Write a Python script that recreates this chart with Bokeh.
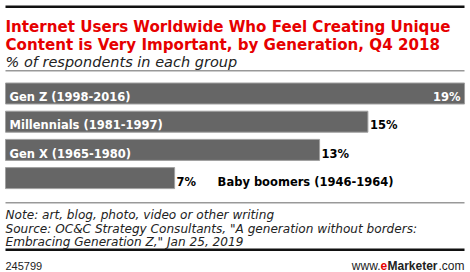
from bokeh.plotting import figure
from bokeh.models import Range1d, Label, BoxAnnotation, ColumnDataSource
from bokeh.core.properties import value
from bokeh.embed import file_html
from bokeh.resources import INLINE

# ---- data ----
categories = ["Gen Z (1998-2016)", "Millennials (1981-1997)", "Gen X (1965-1980)", "Baby boomers (1946-1964)"]
values = [19, 15, 13, 7]
value_labels = ["19%", "15%", "13%", "7%"]

title_lines = ["Internet Users Worldwide Who Feel Creating Unique",
               "Content is Very Important, by Generation, Q4 2018"]
subtitle = "% of respondents in each group"
note_lines = ["Note: art, blog, photo, video or other writing",
              "Source: OC&C Strategy Consultants, \"A generation without borders:",
              "Embracing Generation Z,\" Jan 25, 2019"]
chart_id = "245799"

# ---- layout constants ----
W, H = 470, 272
X0 = 5            # pixel where 0% sits
SCALE = 24.16     # pixels per percentage point
BAR_Y0 = 93       # center of first bar (px from top)
BAR_PITCH = 28.2
BAR_H = 21
FONT = "Liberation Sans"
BFONT = "DejaVu Sans"

p = figure(width=W, height=H, output_backend="svg", toolbar_location=None,
           x_range=Range1d(-X0 / SCALE, (W - X0) / SCALE),
           y_range=Range1d(H, 0), min_border=0)
p.xaxis.visible = False
p.yaxis.visible = False
p.grid.visible = False
p.outline_line_color = None
p.background_fill_color = "white"
p.border_fill_color = "white"

ys = [BAR_Y0 + i * BAR_PITCH for i in range(len(values))]
src = ColumnDataSource(dict(y=ys, v=values, cat=categories, lab=value_labels))
p.hbar(y="y", left=0, right="v", height=BAR_H, source=src,
       fill_color="#666666", line_color="#a0a0a0", line_width=1)

vmax = max(values)
pad = 4 / SCALE
LBL = dict(text_font=BFONT, text_font_style="bold", text_font_size="11.5px",
           text_baseline="alphabetic")
for y, v, c, lab in zip(ys, values, categories, value_labels):
    base = y + 3.7
    if v >= 10:
        p.add_layout(Label(x=pad, y=base, text=c, text_color="white", text_align="left", **LBL))
    if v == vmax:
        p.add_layout(Label(x=v - pad, y=base, text=lab, text_color="white", text_align="right", **LBL))
    else:
        p.add_layout(Label(x=v + 2 / SCALE, y=base, text=lab, text_color="black", text_align="left", **LBL))
    if v < 10:
        p.add_layout(Label(x=v + 43 / SCALE, y=base, text=c, text_color="black", text_align="left", **LBL))

# ---- rules ----
def rule(top, bottom, color):
    p.add_layout(BoxAnnotation(left=X0, right=W - 6, left_units="screen", right_units="screen",
                               top=top, bottom=bottom, fill_color=color, fill_alpha=1,
                               line_color=None))

rule(5, 7.5, "#111111")
rule(69.5, 71, "#999999")
rule(201.5, 203, "#999999")
rule(248, 250.5, "#111111")

# ---- title ----
for i, t in enumerate(title_lines):
    p.add_layout(Label(x=X0, y=26 + i * 18, x_units="screen", text=t, text_color="#e60000",
                       text_font=BFONT, text_font_style="bold", text_font_size="15.1px",
                       text_baseline="alphabetic"))
p.add_layout(Label(x=X0, y=61, x_units="screen", text=subtitle, text_color="#222222",
                   text_font=BFONT, text_font_style="italic", text_font_size="14.5px",
                   text_baseline="alphabetic"))

for i, t in enumerate(note_lines):
    p.add_layout(Label(x=X0, y=214.5 + i * 13.5, x_units="screen", text=t, text_color="#222222",
                       text_font=BFONT, text_font_style="italic", text_font_size="12.1px",
                       text_baseline="alphabetic"))

p.add_layout(Label(x=X0, y=265, x_units="screen", text=chart_id, text_color="#222222",
                   text_font=FONT, text_font_size="11px", text_baseline="alphabetic"))

# www.eMarketer.com
p.add_layout(Label(x=380, y=265, x_units="screen", text="www.", text_color="#222222",
                   text_font=FONT, text_font_size="12px", text_baseline="alphabetic", text_align="right"))
p.add_layout(Label(x=380, y=265, x_units="screen", text="e", text_color="#e60000",
                   text_font=FONT, text_font_style="bold", text_font_size="12px", text_baseline="alphabetic"))
p.add_layout(Label(x=387, y=265, x_units="screen", text="Marketer", text_color="#222222",
                   text_font=FONT, text_font_style="bold", text_font_size="12px", text_baseline="alphabetic"))
p.add_layout(Label(x=464, y=265, x_units="screen", text=".com", text_color="#222222",
                   text_font=FONT, text_font_size="12px", text_baseline="alphabetic", text_align="right"))

open("out.html", "w").write(file_html(p, INLINE))
